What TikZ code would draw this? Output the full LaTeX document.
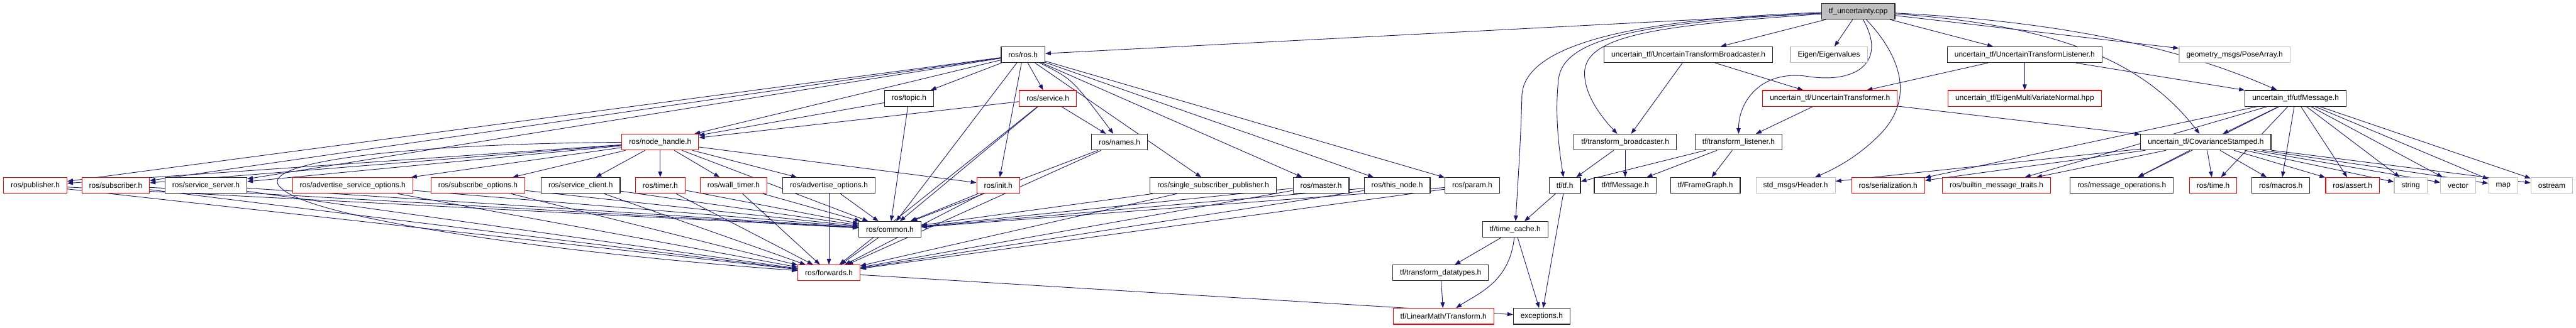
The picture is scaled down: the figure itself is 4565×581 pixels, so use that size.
\documentclass[tikz,border=0pt]{standalone}
\usepackage{fontspec}
\setmainfont{Liberation Sans}
\usetikzlibrary{arrows.meta,backgrounds}
\definecolor{edgecol}{HTML}{191970}
\definecolor{grayb}{HTML}{BFBFBF}
\definecolor{redb}{HTML}{FF0000}
\tikzset{
  fnode/.style={draw, line width=1pt, fill=white, inner xsep=9.6pt, inner ysep=0pt,
    minimum height=21pt, font=\fontsize{10}{12}\selectfont, anchor=center},
  blk/.style={fnode, draw=black!85},
  redn/.style={fnode, draw=redb},
  grayn/.style={fnode, draw=grayb},
  rootn/.style={fnode, draw=black!85, fill=grayb},
  edge/.style={draw=edgecol, line width=0.75pt, -{Triangle[length=7.5pt,width=5.5pt]}}
}
\begin{document}
\begin{tikzpicture}[x=0.75pt,y=-0.75pt]
\path[use as bounding box] (0,0) rectangle (4565,581);
% row 0
\node[rootn] (root) at (3293,20) {tf\_uncertainty.cpp};
% row 1
\node[blk] (rosh) at (1813,97) {ros/ros.h};
\node[blk] (utb) at (2992,97) {uncertain\_tf/UncertainTransformBroadcaster.h};
\node[grayn] (eig) at (3241,97) {Eigen/Eigenvalues};
\node[blk] (utl) at (3588,97) {uncertain\_tf/UncertainTransformListener.h};
\node[grayn] (pose) at (3960,97) {geometry\_msgs/PoseArray.h};
% row 2
\node[blk] (topic) at (1611,174.5) {ros/topic.h};
\node[redn] (service) at (1857,174.5) {ros/service.h};
\node[redn] (utr) at (3243,174.5) {uncertain\_tf/UncertainTransformer.h};
\node[redn] (emvn) at (3588,174.5) {uncertain\_tf/EigenMultiVariateNormal.hpp};
\node[blk] (utf) at (4068,174.5) {uncertain\_tf/utfMessage.h};
% row 3
\node[redn] (nh) at (1170,252) {ros/node\_handle.h};
\node[blk] (names) at (1984,252) {ros/names.h};
\node[blk] (tfb) at (2880,252) {tf/transform\_broadcaster.h};
\node[blk] (tfl) at (3081,252) {tf/transform\_listener.h};
\node[blk] (cov) at (3909,252) {uncertain\_tf/CovarianceStamped.h};
% row 4
\node[redn] (pub) at (62.5,329) {ros/publisher.h};
\node[redn] (sub) at (205,329) {ros/subscriber.h};
\node[blk] (srv) at (365,329) {ros/service\_server.h};
\node[redn] (aso) at (625,329) {ros/advertise\_service\_options.h};
\node[redn] (so) at (847,329) {ros/subscribe\_options.h};
\node[blk] (sc) at (1029,329) {ros/service\_client.h};
\node[redn] (timer) at (1170,329) {ros/timer.h};
\node[redn] (wt) at (1300,329) {ros/wall\_timer.h};
\node[blk] (ao) at (1469,329) {ros/advertise\_options.h};
\node[redn] (init) at (1769,329) {ros/init.h};
\node[blk] (ssp) at (2150,329) {ros/single\_subscriber\_publisher.h};
\node[blk] (master) at (2341,329) {ros/master.h};
\node[blk] (thisn) at (2476,329) {ros/this\_node.h};
\node[blk] (param) at (2609,329) {ros/param.h};
\node[blk] (tftf) at (2773,329) {tf/tf.h};
\node[blk] (tfmsg) at (2880,329) {tf/tfMessage.h};
\node[blk] (fg) at (3022,329) {tf/FrameGraph.h};
\node[grayn] (hdr) at (3182,329) {std\_msgs/Header.h};
\node[redn] (ser) at (3346,329) {ros/serialization.h};
\node[redn] (bmt) at (3538,329) {ros/builtin\_message\_traits.h};
\node[blk] (mo) at (3760,329) {ros/message\_operations.h};
\node[redn] (time) at (3922,329) {ros/time.h};
\node[blk] (mac) at (4042,329) {ros/macros.h};
\node[redn] (ast) at (4169,329) {ros/assert.h};
\node[grayn] (str) at (4272,329) {string};
\node[grayn] (vec) at (4356,329) {vector};
\node[grayn] (map) at (4436,329) {map};
\node[grayn] (ost) at (4522,329) {ostream};
% row 5
\node[blk] (common) at (1577,407) {ros/common.h};
\node[blk] (tc) at (2685,407) {tf/time\_cache.h};
% row 6
\node[redn] (fw) at (1469,484) {ros/forwards.h};
\node[blk] (tdt) at (2553,484) {tf/transform\_datatypes.h};
% row 7
\node[redn] (ltr) at (2558,561) {tf/LinearMath/Transform.h};
\node[blk] (exc) at (2732,561) {exceptions.h};

\begin{pgfonlayer}{background}
% root
\draw[edge] (root) -- (rosh);
\draw[edge] (root) -- (utb);
\draw[edge] (root) -- (eig);
\draw[edge] (root) -- (utl);
\draw[edge] (root) -- (pose);
\draw[edge] (root) .. controls (3700,40) and (3900,100) .. (utf);
\draw[edge] (root) .. controls (3650,45) and (3800,110) .. (cov);
\draw[edge] (root) .. controls (3345,110) and (3290,150) .. (3200,135) .. controls (3120,125) and (3081,180) .. (tfl);
\draw[edge] (root) .. controls (2950,45) and (2808,60) .. (2808,130) .. controls (2808,170) and (2840,210) .. (tfb);
\draw[edge] (root) .. controls (2900,40) and (2770,70) .. (2762,140) .. controls (2755,200) and (2762,260) .. (tftf);
\draw[edge] (root) .. controls (2850,35) and (2700,90) .. (2697,170) .. controls (2695,250) and (2690,320) .. (tc);
\draw[edge] (root) .. controls (3360,90) and (3400,170) .. (3330,240) .. controls (3290,280) and (3250,300) .. (hdr);
% ros.h
\foreach \t in {pub,sub,srv,nh,topic,service,init,ssp,master,thisn,param,common}
  \draw[edge] (rosh) -- (\t);
\draw[edge] (rosh) .. controls (1900,140) .. (names);
\draw[edge] (topic) -- (nh);
\draw[edge] (topic) -- (common);
\draw[edge] (service) -- (nh);
\draw[edge] (service) -- (names);
\draw[edge] (service) -- (common);
\draw[edge] (service) -- (fw);
% node_handle
\foreach \t in {pub,sub,srv,aso,so,sc,timer,wt,ao,init,common}
  \draw[edge] (nh) -- (\t);
\draw[edge] (nh) .. controls (700,255) and (440,290) .. (500,335) .. controls (560,390) and (1000,450) .. (fw);
% to common and forwards
\foreach \s in {pub,sub,srv,aso,so,sc,timer,wt,ao,init,names,ssp,master,thisn,param}{
  \draw[edge] (\s) -- (common);
  \draw[edge] (\s) -- (fw);
}
\draw[edge] (common) -- (fw);
\draw[edge] (fw) -- (exc);
% tf
\draw[edge] (utb) -- (tfb);
\draw[edge] (utb) -- (utr);
\draw[edge] (utl) -- (utr);
\draw[edge] (utl) -- (emvn);
\draw[edge] (utl) -- (utf);
\draw[edge] (utr) -- (tfl);
\draw[edge] (utr) -- (cov);
\draw[edge] (tfb) -- (tftf);
\draw[edge] (tfb) -- (tfmsg);
\draw[edge] (tfl) -- (tftf);
\draw[edge] (tfl) -- (tfmsg);
\draw[edge] (tfl) -- (fg);
\draw[edge] (tftf) -- (tc);
\draw[edge] (tftf) -- (exc);
\draw[edge] (tc) -- (tdt);
\draw[edge] (tc) .. controls (2675,500) and (2620,520) .. (ltr);
\draw[edge] (tc) -- (exc);
\draw[edge] (tdt) -- (ltr);
% messages
\draw[edge] (utf) -- (cov);
\foreach \t in {ser,bmt,mo,time,mac,ast,str,vec,map,ost}
  \draw[edge] (utf) -- (\t);
\foreach \t in {hdr,ser,bmt,mo,time,mac,ast,str,vec,map,ost}
  \draw[edge] (cov) -- (\t);
\end{pgfonlayer}
\end{tikzpicture}
\end{document}
